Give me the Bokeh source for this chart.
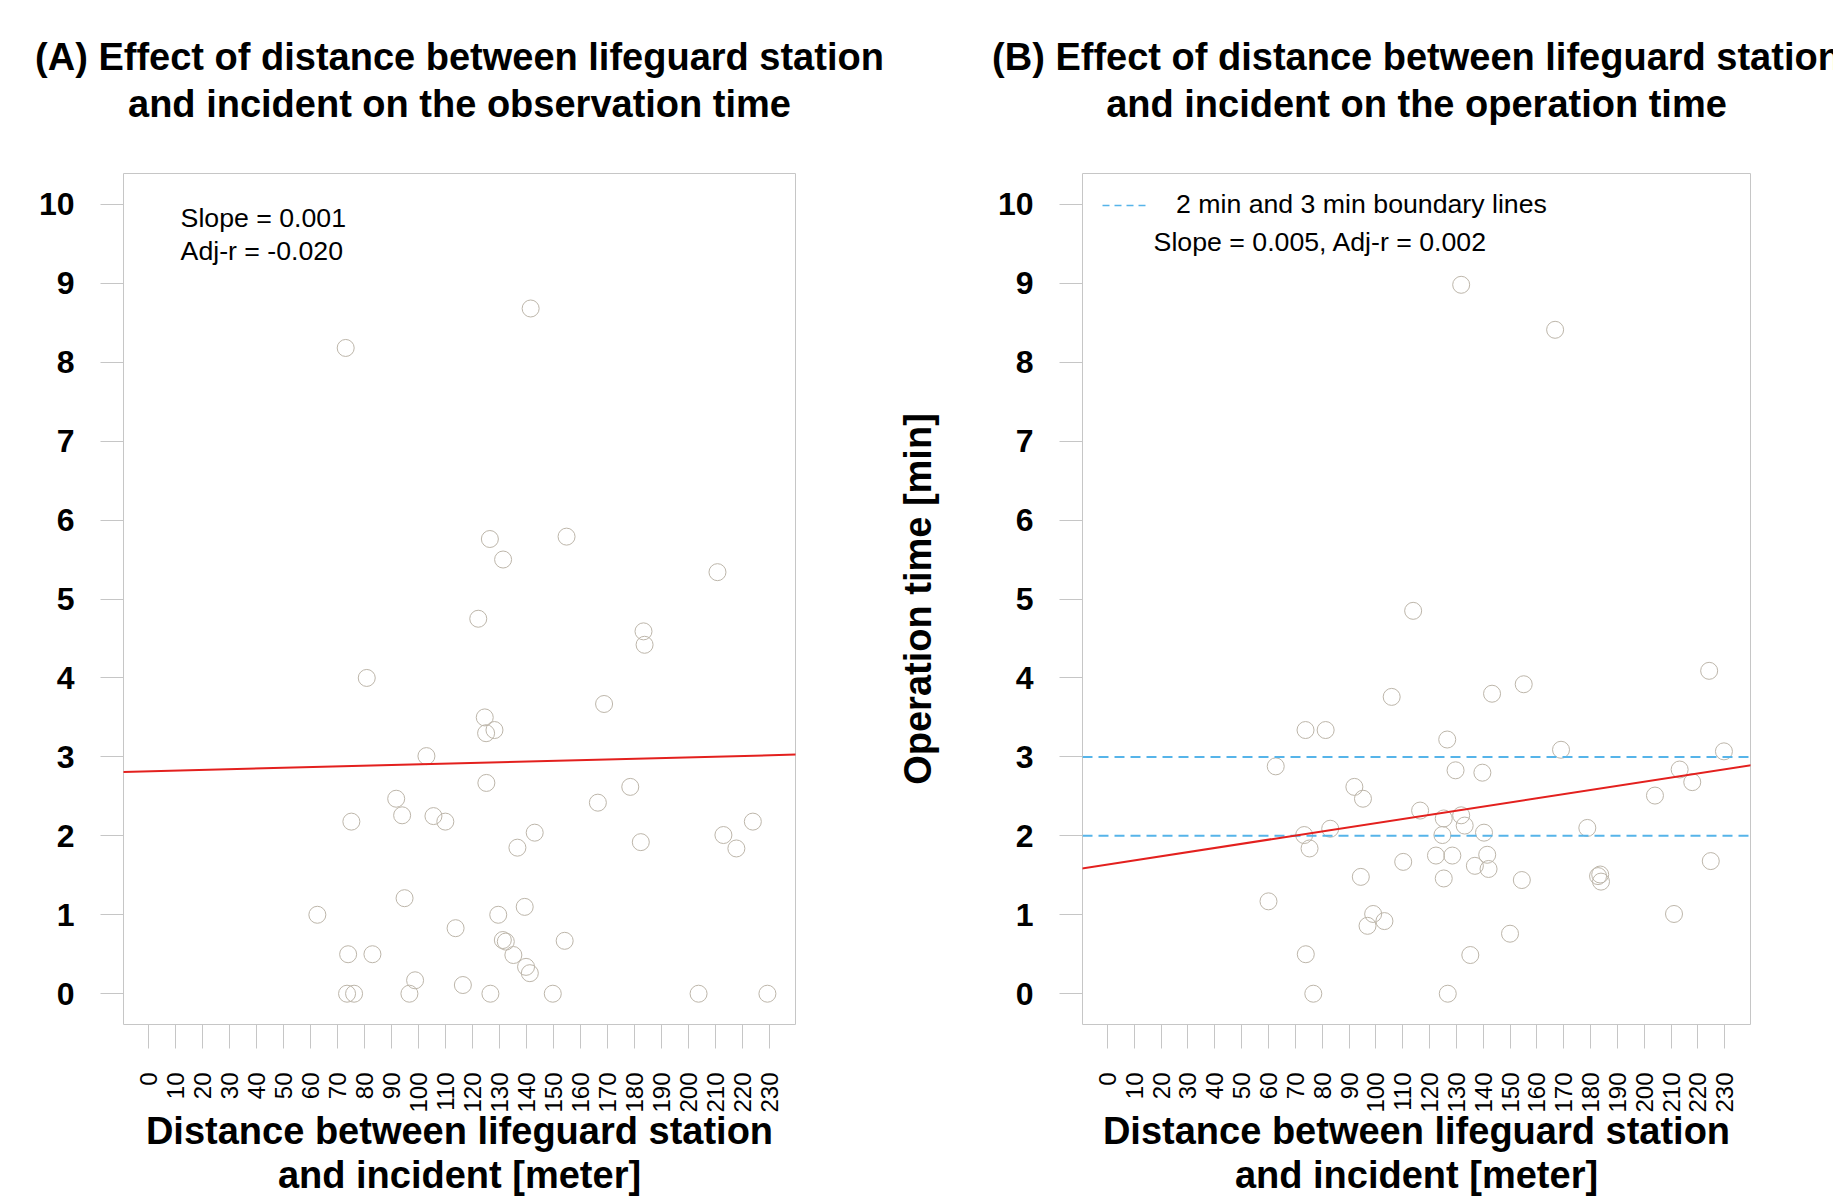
import math
from bokeh.plotting import figure
from bokeh.models import Range1d, FixedTicker, Label, Slope, Span, Legend, LegendItem, Title
from bokeh.layouts import row
from bokeh.embed import file_html
from bokeh.resources import INLINE

# ---------------- data ----------------
obs_dist = [141.5, 73.0, 126.4, 154.8, 131.3, 210.7, 122.1, 183.3, 183.7, 80.8,
            168.7, 124.5, 125.0, 128.1, 102.9, 125.1, 91.7, 178.4, 166.4, 93.9,
            105.5, 109.9, 75.1, 143.0, 136.6, 182.3, 212.9, 217.7, 223.8, 94.8,
            62.5, 129.5, 139.3, 113.7, 131.2, 132.3, 154.1, 73.9, 82.9, 135.1,
            139.8, 141.2, 98.7, 116.4, 73.5, 76.1, 96.6, 126.6, 149.7, 203.7, 229.2]
obs_time = [8.68, 8.18, 5.76, 5.79, 5.50, 5.34, 4.75, 4.59, 4.42, 4.00,
            3.67, 3.50, 3.30, 3.34, 3.01, 2.67, 2.47, 2.62, 2.42, 2.26,
            2.25, 2.18, 2.18, 2.04, 1.85, 1.92, 2.01, 1.84, 2.18, 1.21,
            1.00, 1.00, 1.10, 0.83, 0.68, 0.66, 0.67, 0.50, 0.50, 0.49,
            0.34, 0.26, 0.17, 0.11, 0.0, 0.0, 0.0, 0.0, 0.0, 0.0, 0.0]

op_dist = [131.8, 166.8, 113.9, 224.2, 105.9, 143.3, 155.1, 73.8, 81.3, 126.6,
           169.0, 229.7, 62.7, 129.7, 139.7, 213.2, 217.9, 92.0, 95.2, 204.0,
           116.5, 125.3, 131.8, 133.1, 83.0, 73.3, 124.8, 140.3, 178.8, 75.3,
           122.4, 128.5, 141.5, 110.2, 136.9, 142.0, 224.8, 94.4, 125.3, 154.4,
           182.8, 183.6, 183.9, 60.0, 99.0, 103.2, 96.9, 211.1, 150.0, 73.9,
           135.2, 76.7, 126.8]
op_time = [8.98, 8.41, 4.85, 4.09, 3.76, 3.80, 3.92, 3.34, 3.34, 3.22,
           3.09, 3.07, 2.88, 2.83, 2.80, 2.84, 2.68, 2.62, 2.47, 2.51,
           2.32, 2.22, 2.26, 2.13, 2.09, 2.01, 2.01, 2.04, 2.10, 1.84,
           1.75, 1.75, 1.76, 1.67, 1.62, 1.58, 1.68, 1.48, 1.46, 1.44,
           1.49, 1.51, 1.42, 1.17, 1.01, 0.92, 0.86, 1.01, 0.76, 0.50,
           0.49, 0.00, 0.00]

fit_obs = {"intercept": 2.818, "slope": 0.00088}
fit_op = {"intercept": 1.637, "slope": 0.00524}
boundary_minutes = [2, 3]

x_ticks = [0, 10, 20, 30, 40, 50, 60, 70, 80, 90, 100, 110, 120,
           130, 140, 150, 160, 170, 180, 190, 200, 210, 220, 230]
y_ticks = [0, 1, 2, 3, 4, 5, 6, 7, 8, 9, 10]

title_a = ["(A) Effect of distance between lifeguard station",
           "and incident on the observation time"]
title_b = ["(B) Effect of distance between lifeguard station",
           "and incident on the operation time"]
xlabel = "Distance between lifeguard station\nand incident [meter]"
ylabel_b = "Operation time [min]"
stats_a = ["Slope = 0.001", "Adj-r = -0.020"]
stats_b = "Slope = 0.005, Adj-r = 0.002"
legend_b = "2 min and 3 min boundary lines"

# ---------------- styling ----------------
FONT = "Liberation Sans"
GRAY = "#c6c6c6"
PT = "#bdb6aa"
RED = "#e3201e"
BLUE = "#56b4e9"
SMALL = "26.7px"
X_RANGE = (-9.3, 239.6)
Y_RANGE = (-0.39, 10.39)
FRAME_W, FRAME_H = 672, 851
FIG_H = 1201
TOP = 173
BOTTOM = FIG_H - TOP - FRAME_H


def y_from_top(px):
    """data y of a position px pixels below the frame top (text placement)"""
    return Y_RANGE[1] - px * (Y_RANGE[1] - Y_RANGE[0]) / FRAME_H


def make_panel(width, left, title_lines):
    p = figure(width=width, height=FIG_H, title=None,
               x_range=Range1d(*X_RANGE), y_range=Range1d(*Y_RANGE),
               output_backend="svg", toolbar_location=None,
               min_border_left=left, min_border_right=width - left - FRAME_W,
               min_border_top=TOP, min_border_bottom=BOTTOM,
               background_fill_color="white", border_fill_color="white")
    p.outline_line_color = GRAY
    p.outline_line_width = 1
    p.xgrid.visible = False
    p.ygrid.visible = False

    # gap between frame and title (empty spacer), then the two centred lines
    p.add_layout(Title(text=" ", text_font_size="1px", standoff=46), "above")
    for txt, so in [(title_lines[1], 0), (title_lines[0], 6)]:
        p.add_layout(Title(text=txt, align="center", text_font=FONT,
                           text_font_size="38px", text_font_style="bold",
                           text_color="black", standoff=so), "above")

    xa = p.xaxis[0]
    xa.ticker = FixedTicker(ticks=x_ticks)
    xa.major_label_orientation = math.pi / 2
    xa.axis_line_color = None
    xa.major_tick_line_color = GRAY
    xa.major_tick_out = 24
    xa.major_tick_in = 0
    xa.minor_tick_out = 0
    xa.minor_tick_in = 0
    xa.major_label_standoff = 24
    xa.major_label_text_font = FONT
    xa.major_label_text_font_size = "24px"
    xa.major_label_text_color = "black"
    xa.axis_label = xlabel
    xa.axis_label_text_font = FONT
    xa.axis_label_text_font_size = "38px"
    xa.axis_label_text_font_style = "bold"
    xa.axis_label_text_color = "black"
    xa.axis_label_text_align = "center"
    xa.axis_label_text_line_height = 1.07
    xa.axis_label_standoff = -6

    ya = p.yaxis[0]
    ya.ticker = FixedTicker(ticks=y_ticks)
    ya.axis_line_color = None
    ya.major_tick_line_color = GRAY
    ya.major_tick_out = 23
    ya.major_tick_in = 0
    ya.minor_tick_out = 0
    ya.minor_tick_in = 0
    ya.major_label_standoff = 26
    ya.major_label_text_font = FONT
    ya.major_label_text_font_size = "32px"
    ya.major_label_text_font_style = "bold"
    ya.major_label_text_color = "black"
    return p


pA = make_panel(893, 123, title_a)
pA.scatter(obs_dist, obs_time, marker="circle", size=17, fill_color=None,
           line_color=PT, line_width=1)
pA.add_layout(Slope(gradient=fit_obs["slope"], y_intercept=fit_obs["intercept"],
                    line_color=RED, line_width=2))
for txt, px in zip(stats_a, [44, 77]):
    pA.add_layout(Label(x=11.85, y=y_from_top(px), text=txt, text_font=FONT,
                        text_font_size=SMALL, text_color="black",
                        text_baseline="middle"))

pB = make_panel(940, 185, title_b)
for m in boundary_minutes:
    pB.add_layout(Span(location=m, dimension="width", line_color=BLUE,
                       line_width=2, line_dash="10 6"))
pB.scatter(op_dist, op_time, marker="circle", size=17, fill_color=None,
           line_color=PT, line_width=1)
pB.add_layout(Slope(gradient=fit_op["slope"], y_intercept=fit_op["intercept"],
                    line_color=RED, line_width=2))
yb = pB.yaxis[0]
yb.axis_label = ylabel_b
yb.axis_label_text_font = FONT
yb.axis_label_text_font_size = "38px"
yb.axis_label_text_font_style = "bold"
yb.axis_label_text_color = "black"
yb.axis_label_standoff = 56

# legend key only (no data is drawn by this renderer)
leg_r = pB.line(x=[float("nan")], y=[float("nan")], line_color=BLUE,
                line_width=1.5, line_dash="7 5")
legend = Legend(items=[LegendItem(label=legend_b, renderers=[leg_r])],
                location=(20, 804), padding=0, margin=0, spacing=0,
                glyph_width=47, glyph_height=30, label_height=30,
                label_standoff=27, label_text_font=FONT,
                label_text_font_size=SMALL, label_text_color="black",
                background_fill_alpha=0, border_line_alpha=0)
pB.add_layout(legend)
pB.add_layout(Label(x=17.2, y=y_from_top(68), text=stats_b, text_font=FONT,
                    text_font_size=SMALL, text_color="black",
                    text_baseline="middle"))

layout = row(pA, pB)
open("out.html", "w").write(file_html(layout, INLINE))
